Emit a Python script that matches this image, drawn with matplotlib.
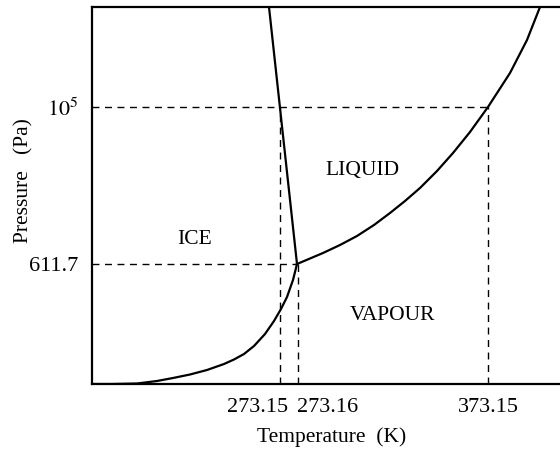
import matplotlib
matplotlib.use("Agg")
import matplotlib.pyplot as plt
import matplotlib.transforms as mtransforms

# schematic diagram coordinates (not to scale, like the original textbook figure)
sublimation_x = [0, 20, 45, 65, 81, 98, 115, 132, 142, 152, 162, 173, 182, 189, 195, 201, 205]
sublimation_y = [0, 0, 0.5, 3, 6, 9.5, 14, 20, 24.5, 30, 38, 50, 63, 75, 87, 104, 120]

fusion_x = [205, 177]
fusion_y = [120, 377]

vapour_x = [205, 231, 248, 265, 282, 298, 313, 328, 345, 361, 378, 396, 418, 435, 448]
vapour_y = [120, 131, 139, 148, 159, 171, 183, 196, 213, 231, 252, 277, 311, 344, 377]

x_tick_pos = [188, 206, 396]
x_tick_labels = ["273.15", "273.16", "373.15"]
y_tick_pos = [120, 277]
y_tick_labels = ["611.7", "$10^5$"]

regions = ["ICE", "LIQUID", "VAPOUR"]
region_x = [103, 271, 301]
region_y = [144, 214, 69]

plt.rcParams['font.family'] = ['Liberation Serif', 'DejaVu Serif']
plt.rcParams['mathtext.fontset'] = 'stix'

fig = plt.figure(figsize=(5.6, 4.53), dpi=100)
ax = fig.add_axes([92 / 560, 69 / 453, 468 / 560, 377 / 453])

lw = 1.6
ax.plot(sublimation_x, sublimation_y, color='black', lw=lw)
ax.plot(fusion_x, fusion_y, color='black', lw=lw)
ax.plot(vapour_x, vapour_y, color='black', lw=lw)

dash = dict(color='black', lw=1.0, linestyle=(0, (5, 4)))
ax.plot([0, x_tick_pos[2]], [y_tick_pos[1], y_tick_pos[1]], **dash)
ax.plot([0, x_tick_pos[1]], [y_tick_pos[0], y_tick_pos[0]], **dash)
ax.plot([x_tick_pos[0], x_tick_pos[0]], [0, y_tick_pos[1]], **dash)
ax.plot([x_tick_pos[1], x_tick_pos[1]], [0, y_tick_pos[0]], **dash)
ax.plot([x_tick_pos[2], x_tick_pos[2]], [0, y_tick_pos[1]], **dash)

for name, tx, ty in zip(regions, region_x, region_y):
    ax.text(tx, ty, name, ha='center', va='center', fontsize=15.5)

ax.set_xlim(0, 468)
ax.set_ylim(0, 377)
ax.set_xticks(x_tick_pos)
ax.set_xticklabels(x_tick_labels, fontsize=16)
ax.set_yticks(y_tick_pos)
ax.set_yticklabels(y_tick_labels, fontsize=16)
ax.tick_params(length=0, pad=10)

# the two close temperature labels sit side by side
xl = ax.get_xticklabels()
xl[0].set_ha('right')
xl[0].set_transform(xl[0].get_transform() + mtransforms.ScaledTranslation(8 / 100, 0, fig.dpi_scale_trans))
xl[1].set_ha('left')
xl[1].set_transform(xl[1].get_transform() + mtransforms.ScaledTranslation(-1 / 100, 0, fig.dpi_scale_trans))

ax.spines['right'].set_visible(False)
for s in ['left', 'bottom', 'top']:
    ax.spines[s].set_linewidth(1.6)

ax.set_xlabel("Temperature  (K)", fontsize=15.5)
ax.xaxis.set_label_coords(0.513, -0.115)
ax.set_ylabel("Pressure   (Pa)", fontsize=15.5)
ax.yaxis.set_label_coords(-0.125, 0.54)

fig.savefig("out.png", dpi=100)
